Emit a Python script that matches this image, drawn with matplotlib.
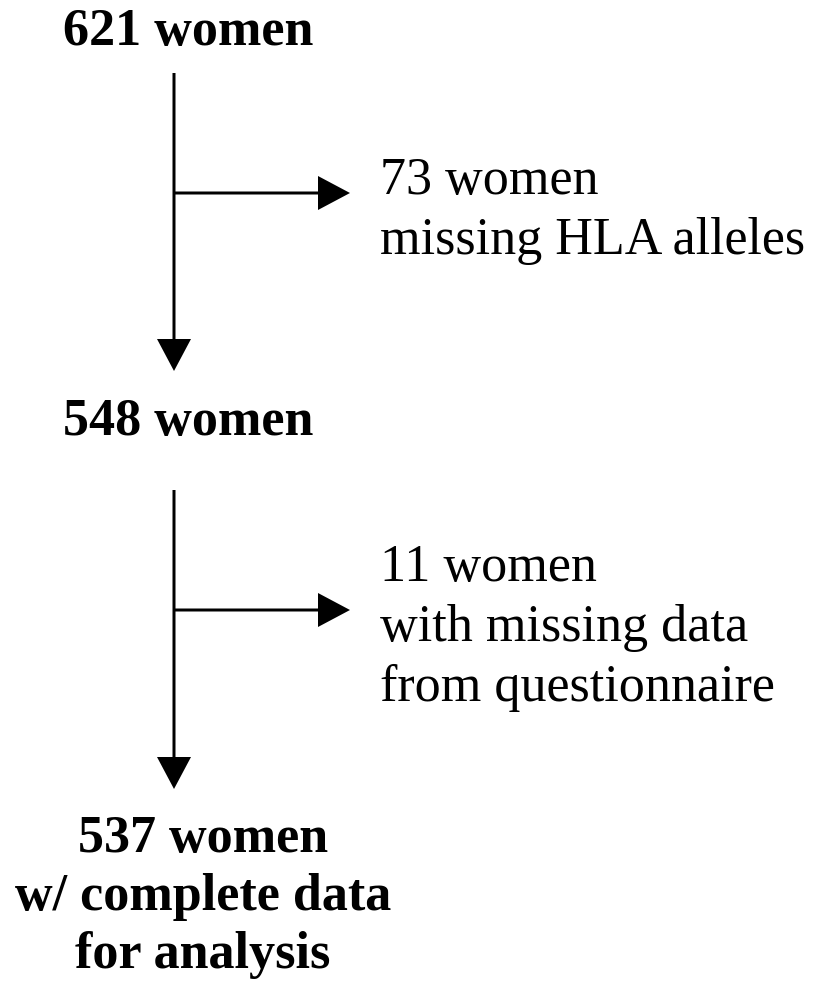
import matplotlib.pyplot as plt

# Flowchart content
stage_labels = [
    ["621 women"],
    ["548 women"],
    ["537 women", "w/ complete data", "for analysis"],
]
excluded_labels = [
    ["73 women", "missing HLA alleles"],
    ["11 women", "with missing data", "from questionnaire"],
]

# Layout (pixel coordinates, y pointing down)
stage_x = [188, 188, 203]
stage_baseline = [45, 435, 852]
stage_line_gap = 58

excl_x = 380
excl_baseline = [194, 581]
excl_line_gap = 60

trunk_x = 174
trunk_start = [73, 490]
trunk_tip = [371, 789]
branch_y = [193, 610]
branch_tip = 350

FONT = "Liberation Serif"
FS = 37.5

fig = plt.figure(figsize=(8.13, 9.83), dpi=100)
ax = fig.add_axes([0, 0, 1, 1])
ax.set_xlim(0, 813)
ax.set_ylim(983, 0)
ax.axis("off")

# Stage boxes (bold, centred)
for lines, x, y0 in zip(stage_labels, stage_x, stage_baseline):
    for i, line in enumerate(lines):
        ax.text(x, y0 + i * stage_line_gap, line, ha="center", va="baseline",
                fontsize=FS, fontweight="bold", family=FONT, color="black")

# Exclusions (regular, left aligned)
for lines, y0 in zip(excluded_labels, excl_baseline):
    for i, line in enumerate(lines):
        ax.text(excl_x, y0 + i * excl_line_gap, line, ha="left", va="baseline",
                fontsize=FS, family=FONT, color="black")

# Arrows
for y0, y1, yb in zip(trunk_start, trunk_tip, branch_y):
    ax.arrow(trunk_x, y0, 0, y1 - y0, width=3, head_width=34, head_length=32,
             length_includes_head=True, fc="black", ec="black", lw=0)
    ax.arrow(trunk_x, yb, branch_tip - trunk_x, 0, width=3, head_width=34,
             head_length=32, length_includes_head=True, fc="black", ec="black", lw=0)

fig.savefig("out.png", dpi=100, facecolor="white")
